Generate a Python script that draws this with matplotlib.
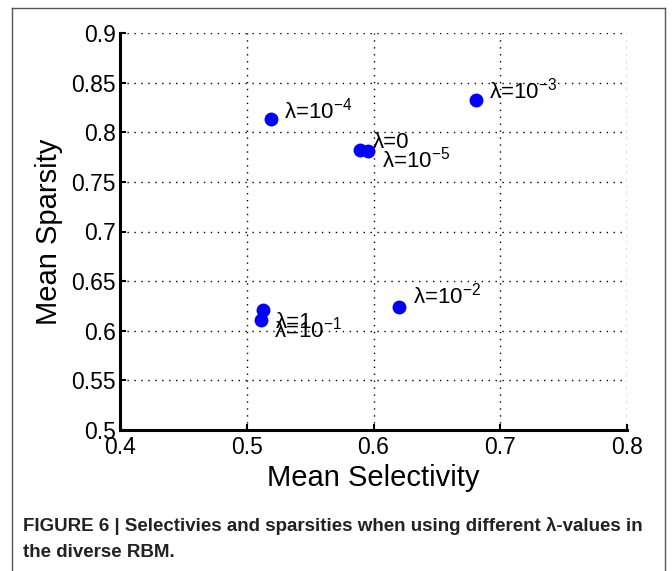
import matplotlib.pyplot as plt
from matplotlib.lines import Line2D

plt.rcParams['font.family'] = ['Liberation Sans', 'DejaVu Sans']
plt.rcParams['mathtext.fontset'] = 'custom'
plt.rcParams['mathtext.rm'] = 'Liberation Sans'
plt.rcParams['mathtext.it'] = 'Liberation Sans'

# data
labels = ['0', '10^{-5}', '10^{-4}', '10^{-3}', '10^{-2}', '10^{-1}', '1']
selectivity = [0.589, 0.596, 0.519, 0.681, 0.620, 0.511, 0.513]
sparsity = [0.782, 0.781, 0.813, 0.832, 0.624, 0.611, 0.621]

# label offsets in pixels (dx, dy)
offsets = [(13, 2), (14, -16), (13, 1), (13, 2), (14, 3), (13, -18), (13, -18)]

fig = plt.figure(figsize=(6.72, 5.71), dpi=100)
ax = fig.add_axes([120 / 672, 1 - 430 / 571, 507 / 672, 397 / 571])

ax.scatter(selectivity, sparsity, s=100, color='#0000ff', zorder=3, linewidths=0)
for x, y, lab, (dx, dy) in zip(selectivity, sparsity, labels, offsets):
    txt = 'λ=' + lab if lab in ('0', '1') else 'λ=$\\mathregular{' + lab + '}$'
    ax.annotate(txt, (x, y), xytext=(dx, dy), textcoords='offset pixels',
                fontsize=16, ha='left', va='baseline')

ax.set_xlim(0.4, 0.8)
ax.set_ylim(0.5, 0.9)
ax.set_xticks([0.4, 0.5, 0.6, 0.7, 0.8])
ax.set_yticks([0.5, 0.55, 0.6, 0.65, 0.7, 0.75, 0.8, 0.85, 0.9])
ax.set_xticklabels(['0.4', '0.5', '0.6', '0.7', '0.8'])
ax.set_yticklabels(['0.5', '0.55', '0.6', '0.65', '0.7', '0.75', '0.8', '0.85', '0.9'])
ax.tick_params(direction='in', length=4, width=1.5, labelsize=16.5)
ax.tick_params(axis='x', pad=4)
ax.tick_params(axis='y', pad=3)
ax.grid(True, linestyle=(0, (1, 4)), color='black', linewidth=1)
for side in ['top', 'right']:
    ax.spines[side].set_visible(False)
for side in ['left', 'bottom']:
    ax.spines[side].set_linewidth(2.2)

ax.set_xlabel('Mean Selectivity', fontsize=21, labelpad=4)
ax.set_ylabel('Mean Sparsity', fontsize=21, labelpad=6)

# outer frame of the figure panel
W, H = 672, 571
for xs, ys in [([12, 12], [H, 8]), ([12, 665], [8, 8]), ([665, 665], [8, H])]:
    fig.add_artist(Line2D([v / W for v in xs], [1 - v / H for v in ys],
                          color='#555555', linewidth=1))

fig.text(23 / W, 1 - 531 / H,
         'FIGURE 6 | Selectivies and sparsities when using different λ-values in',
         fontsize=13.5, fontweight='bold', color='#222222', va='baseline')
fig.text(23 / W, 1 - 557 / H, 'the diverse RBM.',
         fontsize=13.5, fontweight='bold', color='#222222', va='baseline')

fig.savefig('out.png', dpi=100)
